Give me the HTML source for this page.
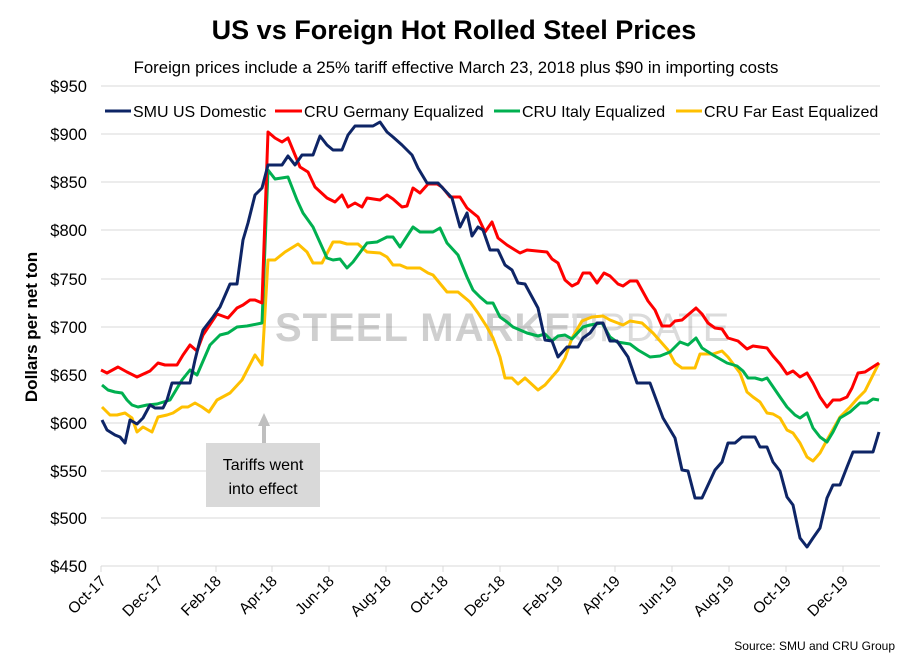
<!DOCTYPE html>
<html><head><meta charset="utf-8"><style>
body{margin:0;background:#fff;}
svg text{font-family:"Liberation Sans",sans-serif;}
</style></head><body>
<svg width="909" height="661" viewBox="0 0 909 661" xmlns="http://www.w3.org/2000/svg">
<rect width="909" height="661" fill="#fff"/>
<text x="454" y="39" text-anchor="middle" font-size="27" font-weight="bold" fill="#000">US vs Foreign Hot Rolled Steel Prices</text>
<text x="456" y="73" text-anchor="middle" font-size="16.8" fill="#000">Foreign prices include a 25% tariff effective March 23, 2018 plus $90 in importing costs</text>
<g stroke="#d9d9d9" stroke-width="1">
<line x1="101" x2="880" y1="86" y2="86"/><line x1="101" x2="880" y1="134" y2="134"/><line x1="101" x2="880" y1="182" y2="182"/><line x1="101" x2="880" y1="230" y2="230"/><line x1="101" x2="880" y1="279" y2="279"/><line x1="101" x2="880" y1="327" y2="327"/><line x1="101" x2="880" y1="375" y2="375"/><line x1="101" x2="880" y1="423" y2="423"/><line x1="101" x2="880" y1="471" y2="471"/><line x1="101" x2="880" y1="518" y2="518"/><line x1="101" x2="880" y1="566" y2="566"/>
<line x1="101" x2="101" y1="566" y2="572"/><line x1="158" x2="158" y1="566" y2="572"/><line x1="216" x2="216" y1="566" y2="572"/><line x1="272" x2="272" y1="566" y2="572"/><line x1="329" x2="329" y1="566" y2="572"/><line x1="386" x2="386" y1="566" y2="572"/><line x1="443" x2="443" y1="566" y2="572"/><line x1="500" x2="500" y1="566" y2="572"/><line x1="558" x2="558" y1="566" y2="572"/><line x1="615" x2="615" y1="566" y2="572"/><line x1="672" x2="672" y1="566" y2="572"/><line x1="729" x2="729" y1="566" y2="572"/><line x1="786" x2="786" y1="566" y2="572"/><line x1="843" x2="843" y1="566" y2="572"/>
</g>
<g font-size="16.5" fill="#000" text-anchor="end">
<text x="87" y="92">$950</text><text x="87" y="140">$900</text><text x="87" y="188">$850</text><text x="87" y="236">$800</text><text x="87" y="285">$750</text><text x="87" y="333">$700</text><text x="87" y="381">$650</text><text x="87" y="429">$600</text><text x="87" y="477">$550</text><text x="87" y="524">$500</text><text x="87" y="572">$450</text>
</g>
<g font-size="15.5" fill="#000" text-anchor="end">
<text transform="translate(107,582) rotate(-45)">Oct-17</text>
<text transform="translate(164,582) rotate(-45)">Dec-17</text>
<text transform="translate(222,582) rotate(-45)">Feb-18</text>
<text transform="translate(278,582) rotate(-45)">Apr-18</text>
<text transform="translate(335,582) rotate(-45)">Jun-18</text>
<text transform="translate(392,582) rotate(-45)">Aug-18</text>
<text transform="translate(449,582) rotate(-45)">Oct-18</text>
<text transform="translate(506,582) rotate(-45)">Dec-18</text>
<text transform="translate(564,582) rotate(-45)">Feb-19</text>
<text transform="translate(621,582) rotate(-45)">Apr-19</text>
<text transform="translate(678,582) rotate(-45)">Jun-19</text>
<text transform="translate(735,582) rotate(-45)">Aug-19</text>
<text transform="translate(792,582) rotate(-45)">Oct-19</text>
<text transform="translate(849,582) rotate(-45)">Dec-19</text>
</g>
<text transform="translate(37,327) rotate(-90)" text-anchor="middle" font-size="17" font-weight="bold" fill="#000">Dollars per net ton</text>
<g opacity="0.35">
<path d="M395,270 A62,62 0 1 0 395,395 A52,52 0 1 1 395,270 Z" fill="#888"/>
<text x="275" y="341" font-size="40" font-weight="bold" fill="#777" letter-spacing="1">STEEL MARKET</text>
<text x="570" y="341" font-size="40" fill="#999">UPDATE</text>
</g>
<g font-size="16" fill="#000">
<line x1="105" x2="131" y1="111" y2="111" stroke="#0e2566" stroke-width="3"/><text x="133" y="117">SMU US Domestic</text>
<line x1="275" x2="302" y1="111" y2="111" stroke="#ff0000" stroke-width="3"/><text x="304" y="117">CRU Germany Equalized</text>
<line x1="494" x2="520" y1="111" y2="111" stroke="#00b050" stroke-width="3"/><text x="522" y="117">CRU Italy Equalized</text>
<line x1="676" x2="702" y1="111" y2="111" stroke="#ffc000" stroke-width="3"/><text x="704" y="117">CRU Far East Equalized</text>
</g>
<g fill="none" stroke-width="3" stroke-linejoin="round">
<polyline stroke="#ffc000" points="102,407 110,415 117,415 125,413 132,418 137,432 143,427 152,432 158,417 167,415 173,413 182,407 188,407 195,403 202,407 209,412 217,400 230,393 242,380 255,355 262,365 268,260 275,260 285,252 298,244 307,252 313,263 322,263 333,242 340,242 347,244 358,244 367,252 380,253 387,257 393,265 400,265 407,268 420,268 428,273 433,275 447,292 458,292 470,302 478,313 487,327 493,338 500,357 505,378 512,378 518,384 525,378 538,390 545,385 558,370 565,358 572,338 582,321 592,317 603,316 610,320 623,325 630,321 642,323 653,333 668,350 675,363 682,368 695,368 700,354 713,354 722,351 728,357 740,373 747,392 753,397 760,402 767,413 773,414 780,418 787,430 793,433 800,443 807,457 813,461 820,453 827,440 840,417 850,407 857,399 865,391 879,363"/>
<polyline stroke="#00b050" points="102,385 108,390 115,392 122,393 127,400 132,405 138,407 147,405 157,404 170,400 182,380 190,370 197,375 210,345 220,335 228,333 237,327 247,326 262,323 268,170 275,179 288,177 297,200 303,213 313,227 327,258 333,260 340,259 347,268 353,262 367,243 377,242 387,237 393,237 400,247 413,227 420,232 433,232 440,228 447,243 458,255 467,277 473,290 480,297 487,303 493,303 500,317 507,322 513,327 527,333 538,336 545,334 552,341 558,336 565,335 572,339 583,327 590,325 602,323 610,337 617,342 630,344 638,350 650,357 660,356 670,352 680,342 688,345 696,338 702,348 713,355 727,363 737,366 743,371 748,378 755,378 762,380 767,378 780,397 787,407 795,415 800,418 807,413 813,428 820,437 827,442 833,432 840,418 850,412 860,403 867,403 873,399 879,400"/>
<polyline stroke="#ff0000" points="101,370 107,373 118,367 127,372 137,377 150,371 158,363 165,365 177,365 183,355 190,345 197,351 203,335 217,314 228,318 237,308 243,305 250,300 255,300 262,303 268,132 275,138 282,142 288,138 300,167 308,172 315,187 327,198 335,202 342,195 348,207 355,203 362,207 367,198 380,200 387,195 393,199 402,207 407,206 413,188 420,193 428,184 437,184 442,187 450,197 460,197 467,208 478,217 485,232 492,222 498,238 507,245 515,250 520,253 527,250 547,252 552,259 558,263 565,280 572,286 578,283 583,273 590,273 597,283 604,273 610,276 618,284 623,286 630,281 637,281 648,301 655,310 662,326 670,326 675,321 682,320 696,308 702,314 708,323 715,328 722,329 728,338 738,341 747,349 753,346 767,348 773,356 780,364 787,374 793,371 800,377 807,373 813,383 820,397 827,407 833,400 840,400 847,397 852,388 858,373 865,372 879,363"/>
<polyline stroke="#0e2566" points="102,420 107,430 115,435 120,437 125,443 130,420 137,424 143,418 150,405 155,408 163,408 167,400 172,383 190,383 195,360 200,340 203,330 213,317 220,307 230,284 237,284 243,240 248,223 255,195 262,188 268,165 282,165 288,156 295,165 302,155 313,155 320,136 327,145 333,150 342,150 348,135 355,126 373,126 380,122 387,132 393,137 402,145 412,155 418,168 427,183 438,183 452,198 460,227 467,213 472,236 478,227 483,230 490,250 498,250 505,265 512,270 518,283 525,284 538,308 545,340 552,341 558,357 567,347 578,347 583,338 590,333 597,323 603,323 610,341 617,341 628,357 637,383 650,383 663,418 675,438 682,470 688,471 695,498 702,498 715,470 722,462 728,443 735,443 742,437 755,437 760,447 767,447 773,462 780,471 787,497 793,505 800,538 807,547 813,538 820,528 827,498 833,485 840,485 847,467 853,452 873,452 879,432"/>
</g>
<line x1="264" x2="264" y1="443" y2="425" stroke="#bfbfbf" stroke-width="4"/>
<polygon points="258,426 270,426 264,413" fill="#bfbfbf"/>
<rect x="206" y="443" width="114" height="64" fill="#d9d9d9"/>
<text x="263" y="470" text-anchor="middle" font-size="16" fill="#000">Tariffs went</text>
<text x="263" y="494" text-anchor="middle" font-size="16" fill="#000">into effect</text>
<text x="895" y="650" text-anchor="end" font-size="12" fill="#000">Source: SMU and CRU Group</text>
</svg>
</body></html>
